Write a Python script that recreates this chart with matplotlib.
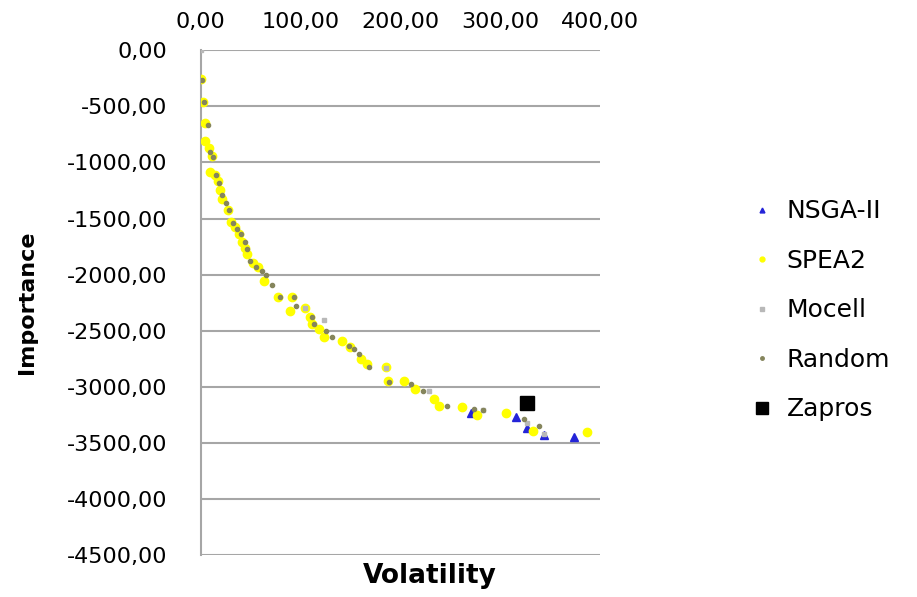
#!/usr/bin/env python3
"""Pareto fronts: volatility vs importance for the five requirement-selection methods."""
import matplotlib
matplotlib.use("Agg")
import matplotlib.pyplot as plt
from matplotlib.ticker import FuncFormatter, MultipleLocator

# values (volatility, importance)
nsga_x = [271, 316, 327, 344, 374]
nsga_y = [-3230, -3265, -3370, -3425, -3445]

spea_x = [0, 2, 4, 4, 8, 11, 9, 14, 17, 19, 21, 27, 30, 34, 38, 41, 44, 46, 52, 57,
          63, 77, 91, 89, 104, 109, 111, 119, 124, 142, 150, 161, 167, 186, 188, 204,
          215, 234, 239, 262, 277, 306, 333, 387]
spea_y = [-260, -460, -650, -810, -870, -940, -1085, -1110, -1170, -1245, -1330, -1420,
          -1530, -1580, -1635, -1705, -1760, -1820, -1900, -1935, -2060, -2195, -2195,
          -2325, -2300, -2380, -2440, -2485, -2555, -2590, -2645, -2750, -2800, -2825,
          -2950, -2950, -3020, -3110, -3170, -3180, -3255, -3230, -3390, -3400]

mocell_x = [0, 104, 124, 186, 229, 283, 327, 344]
mocell_y = [0, -2300, -2405, -2830, -3040, -3210, -3320, -3420]

random_x = [1, 3, 7, 9, 12, 15, 18, 21, 25, 28, 32, 36, 40, 44, 46, 49, 55, 61, 65, 71,
            79, 93, 95, 111, 113, 126, 132, 149, 154, 159, 169, 189, 211, 223, 247, 274,
            283, 324, 339]
random_y = [-265, -460, -665, -905, -950, -1115, -1180, -1290, -1360, -1425, -1540,
            -1590, -1640, -1710, -1770, -1880, -1935, -1970, -2000, -2090, -2195, -2195,
            -2280, -2380, -2440, -2500, -2555, -2635, -2665, -2710, -2825, -2955, -2975,
            -3035, -3170, -3195, -3205, -3290, -3345]

zapros_x = [327]
zapros_y = [-3145]


def comma_fmt(v, _pos):
    return f"{v:.2f}".replace(".", ",")


def main():
    fig = plt.figure(figsize=(9.17, 5.97), dpi=100)
    ax = fig.add_axes([0.219, 0.070, 0.435, 0.846])

    ax.plot(nsga_x, nsga_y, "^", ms=6, color="#2424d8", label="NSGA-II", zorder=3)
    ax.plot(spea_x, spea_y, "o", ms=6, color="#ffff00", label="SPEA2", zorder=4)
    ax.plot(mocell_x, mocell_y, "s", ms=3.5, color="#b8b8b8", label="Mocell", zorder=5)
    ax.plot(random_x, random_y, "o", ms=3, color="#85855c", label="Random", zorder=6)
    ax.plot(zapros_x, zapros_y, "s", ms=10, color="black", label="Zapros", zorder=7)

    ax.set_xlim(0, 400)
    ax.set_ylim(-4500, 0)
    ax.xaxis.set_major_locator(MultipleLocator(100))
    ax.yaxis.set_major_locator(MultipleLocator(500))
    ax.xaxis.set_major_formatter(FuncFormatter(comma_fmt))
    ax.yaxis.set_major_formatter(FuncFormatter(comma_fmt))
    ax.xaxis.tick_top()
    ax.tick_params(axis="x", length=0, pad=13, labelsize=16)
    ax.tick_params(axis="y", length=0, pad=24, labelsize=16)

    ax.grid(axis="y", color="#a6a6a6", lw=1.5)
    ax.set_axisbelow(True)
    for side in ("top", "right", "bottom"):
        ax.spines[side].set_visible(False)
    ax.spines["left"].set_color("#a6a6a6")
    ax.spines["left"].set_linewidth(1.5)

    ax.set_xlabel("Volatility", fontsize=19, fontweight="bold", labelpad=4)
    ax.xaxis.set_label_coords(0.574, -0.015)
    ax.xaxis.label.set_va("top")
    fig.text(27 / 917, 1 - 302 / 597, "Importance", rotation=90, ha="center",
             va="center", fontsize=16, fontweight="bold")

    leg = fig.legend(loc="center left", bbox_to_anchor=(0.795, 0.48), frameon=False,
                     fontsize=18, labelspacing=1.02, handlelength=0.8,
                     handletextpad=0.6)
    small = {"NSGA-II": 3.5, "SPEA2": 3.5, "Mocell": 3.5, "Random": 2.5, "Zapros": 8}
    for h, t in zip(leg.legend_handles, leg.get_texts()):
        h.set_markersize(small[t.get_text()])

    fig.savefig("out.png", dpi=100)
    plt.close(fig)


if __name__ == "__main__":
    main()
